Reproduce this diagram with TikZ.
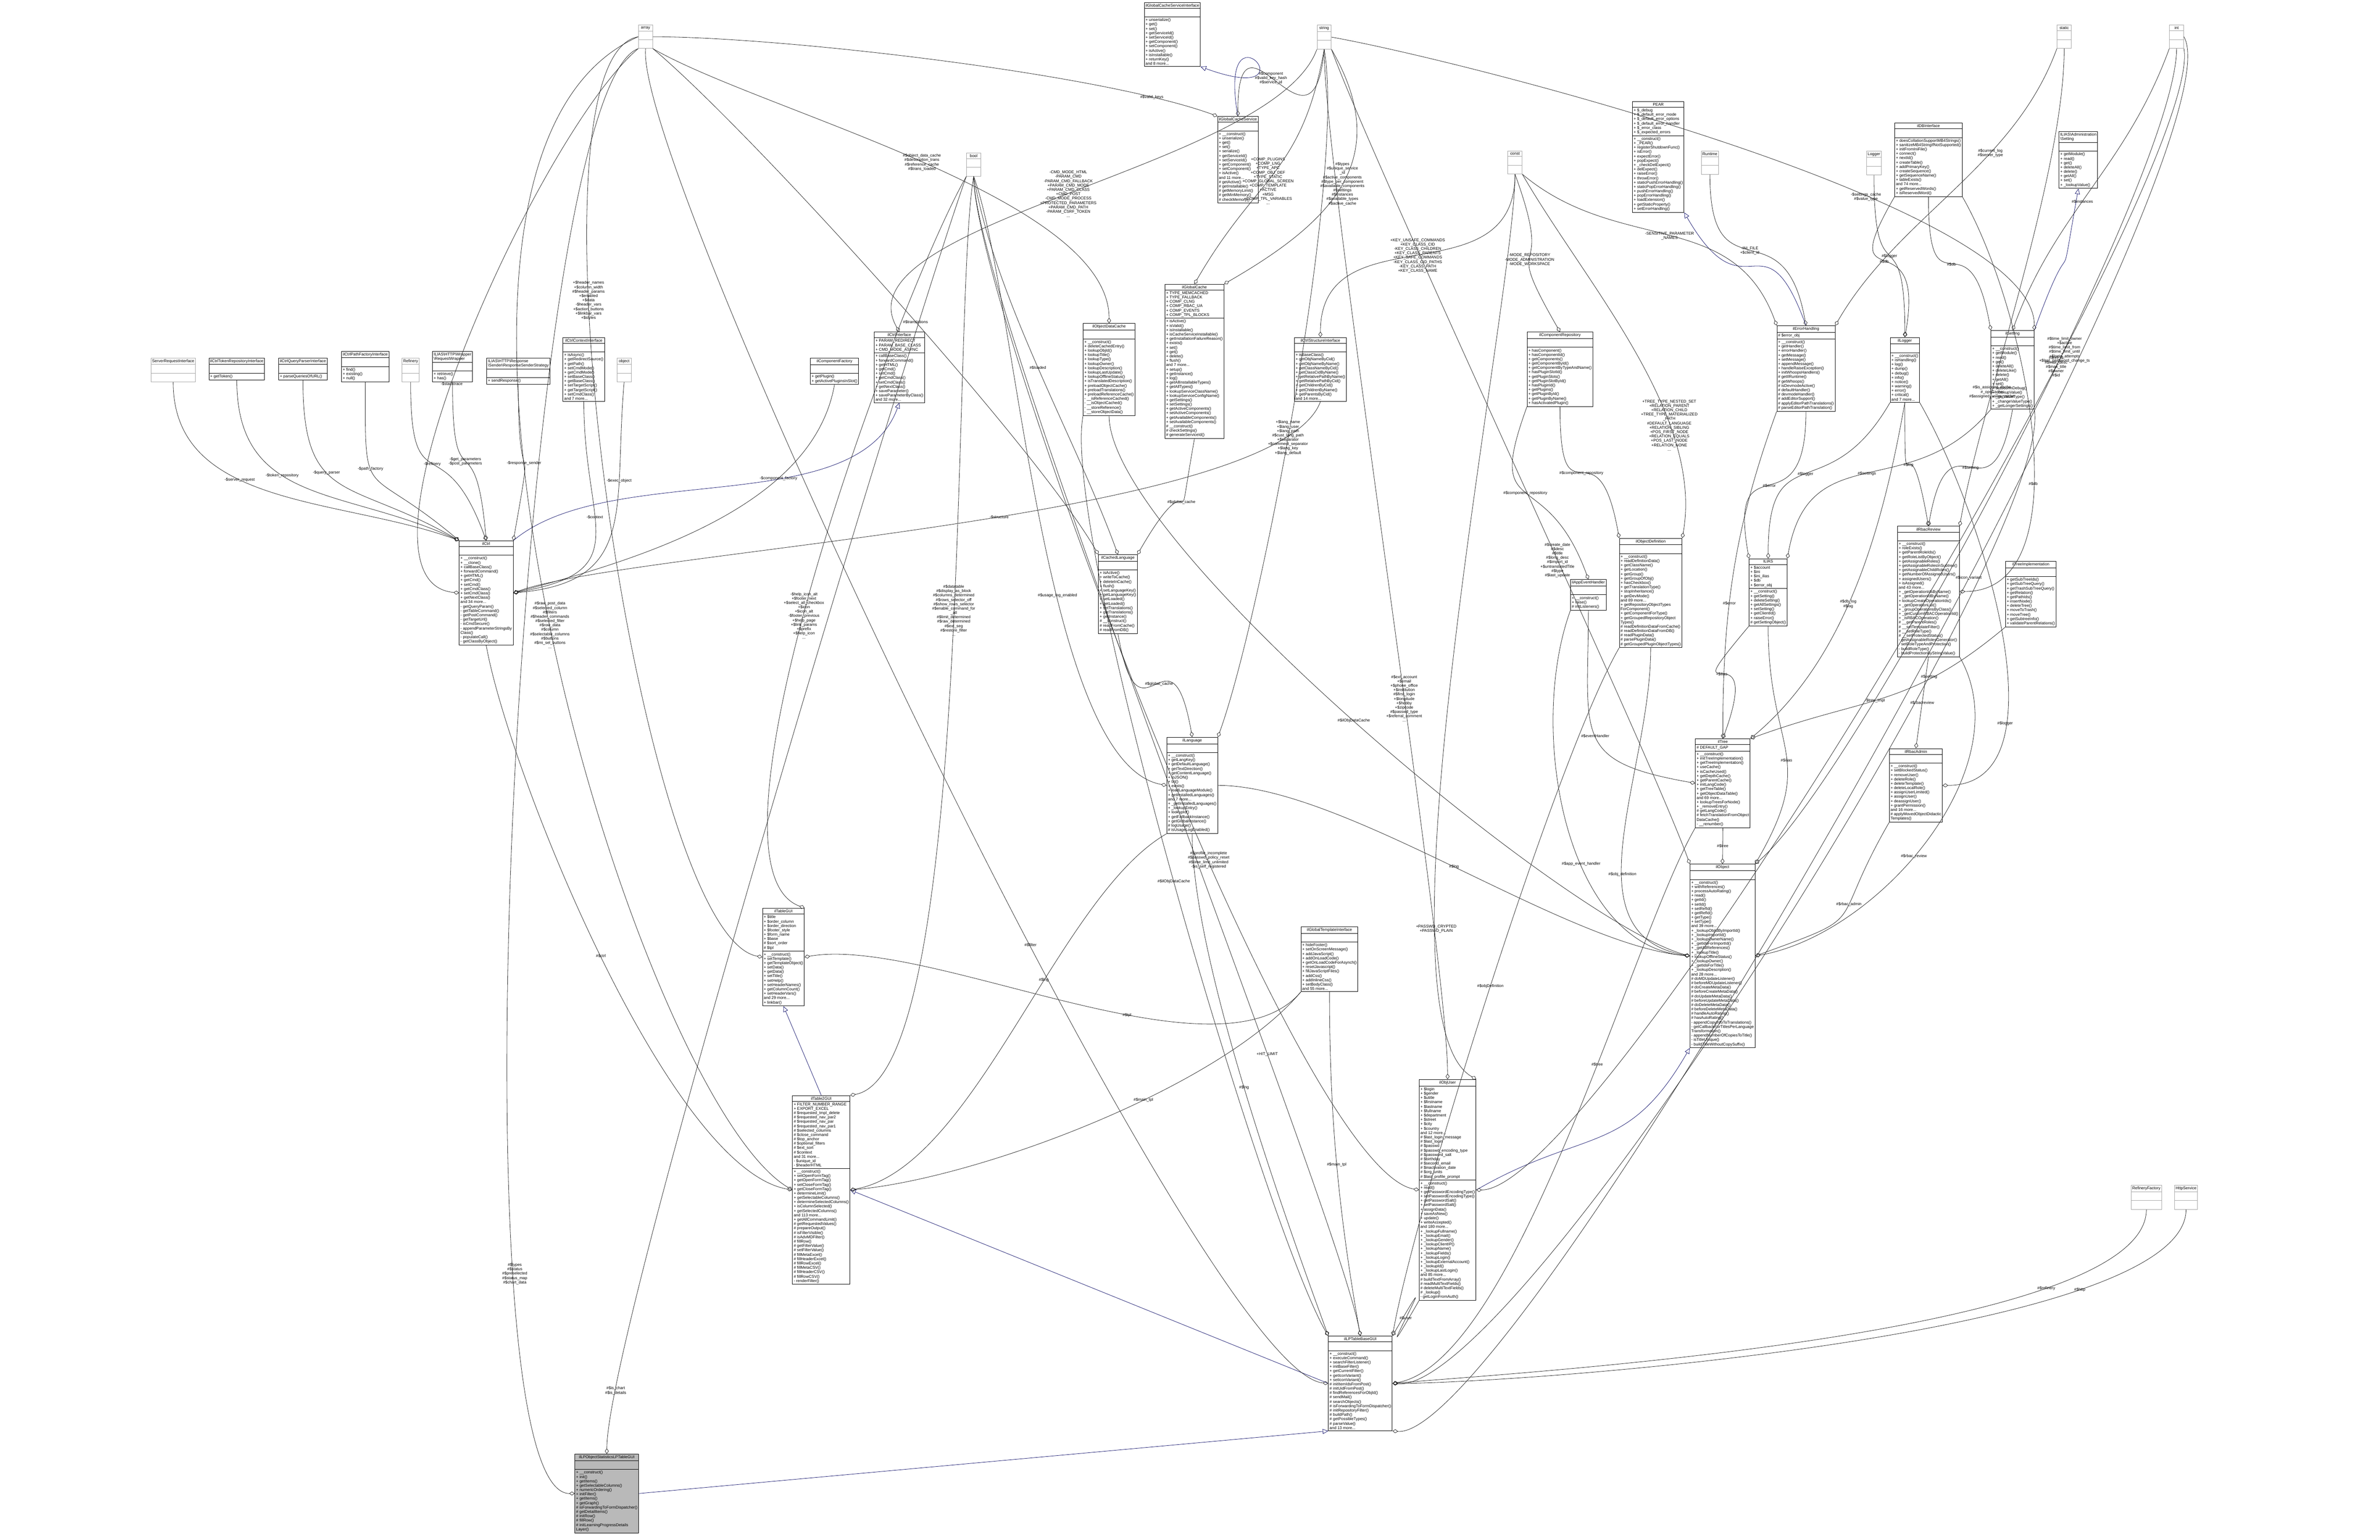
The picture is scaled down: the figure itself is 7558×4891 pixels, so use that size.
\documentclass[tikz,border=0pt]{standalone}
\usepackage{fontspec}
\setmainfont{Liberation Sans}
\usetikzlibrary{shapes.multipart,arrows.meta}
\definecolor{inhblue}{RGB}{25,25,112}
\newcommand{\clsfont}{\fontsize{3.6}{3.95}\selectfont}
\newcommand{\lblfont}{\fontsize{3.6}{3.95}\selectfont}
\tikzset{
  cls/.style={draw, fill=white, rectangle split, rectangle split parts=3, align=left,
    rectangle split part align={center,left,left}, font=\clsfont, inner sep=1.1pt,
    rectangle split empty part height=0.09cm, anchor=north},
  typ/.style={cls, draw=gray!70, minimum width=0.45cm, rectangle split empty part height=0.17cm},
  gray cls/.style={cls, fill=gray!55},
  comp/.style={draw=black!85, line width=0.35pt, -{Diamond[open,length=5pt,width=3.5pt]}},
  inh/.style={draw=inhblue, line width=0.35pt, -{Triangle[open,length=5pt,width=4.5pt]}},
  oi/.style 2 args={to path={.. controls +(#1:4cm) and +(#2:4cm) .. (\tikztotarget) \tikztonodes}},
  lbl/.style={font=\lblfont, align=center, inner sep=1pt}
}
\begin{document}
\begin{tikzpicture}[x=0.01cm,y=-0.01cm]
\useasboundingbox (0,0) rectangle (7558,4891);
% basic types
\node[typ] (array) at (2050,79) {array\nodepart{two}{}\nodepart{three}{}};
\node[typ] (bool) at (3092,485) {bool\nodepart{two}{}\nodepart{three}{}};
\node[typ] (string) at (4205,79) {string\nodepart{two}{}\nodepart{three}{}};
\node[typ] (static) at (6555,79) {static\nodepart{two}{}\nodepart{three}{}};
\node[typ] (int) at (6912,79) {int\nodepart{two}{}\nodepart{three}{}};
\node[typ] (const) at (4811,479) {const\nodepart{two}{}\nodepart{three}{}};
\node[typ] (runtime) at (5430,479) {Runtime\nodepart{two}{}\nodepart{three}{}};
\node[typ] (logger) at (5951,479) {Logger\nodepart{two}{}\nodepart{three}{}};
\node[typ] (object) at (1982,1136) {object\nodepart{two}{}\nodepart{three}{}};
\node[typ] (srvreq) at (550,1136) {ServerRequestInterface\nodepart{two}{}\nodepart{three}{}};
\node[typ] (refinery) at (1304,1136) {Refinery\nodepart{two}{}\nodepart{three}{}};
\node[typ] (refFactory) at (6816,3764) {RefineryFactory\nodepart{two}{}\nodepart{three}{}};
\node[typ] (httpSrv) at (6942,3764) {HttpService\nodepart{two}{}\nodepart{three}{}};
% interfaces of the controller
\node[cls] (tokenRepo) at (752,1136) {ilCtrlTokenRepositoryInterface\nodepart{two}{}\nodepart{three}+ getToken()};
\node[cls] (queryParser) at (962,1136) {ilCtrlQueryParserInterface\nodepart{two}{}\nodepart{three}+ parseQueriesOfURL()};
\node[cls] (pathFactory) at (1160,1115) {ilCtrlPathFactoryInterface\nodepart{two}{}\nodepart{three}+ find()\\+ existing()\\+ null()};
\node[cls] (reqWrapper) at (1437,1115) {ILIAS\textbackslash HTTP\textbackslash Wrapper\\\textbackslash RequestWrapper\nodepart{two}{}\nodepart{three}+ retrieve()\\+ has()};
\node[cls] (respSender) at (1646,1136) {ILIAS\textbackslash HTTP\textbackslash Response\\\textbackslash Sender\textbackslash ResponseSenderStrategy\nodepart{two}{}\nodepart{three}+ sendResponse()};
\node[cls] (ctrlContext) at (1854,1071) {ilCtrlContextInterface\nodepart{two}{}\nodepart{three}+ isAsync()\\+ getRedirectSource()\\+ getPath()\\+ setCmdMode()\\+ getCmdMode()\\+ setBaseClass()\\+ getBaseClass()\\+ setTargetScript()\\+ getTargetScript()\\+ setCmdClass()\\and 7 more...};
\node[cls] (compFactory) at (2650,1137) {ilComponentFactory\nodepart{two}{}\nodepart{three}+ getPlugin()\\+ getActivePluginsInSlot()};
\node[cls] (ctrlIf) at (2856,1054) {ilCtrlInterface\nodepart{two}+ PARAM\_REDIRECT\\+ PARAM\_BASE\_CLASS\\+ CMD\_MODE\_ASYNC\nodepart{three}+ callBaseClass()\\+ forwardCommand()\\+ getHTML()\\+ getCmd()\\+ setCmd()\\+ getCmdClass()\\+ setCmdClass()\\+ getNextClass()\\+ saveParameter()\\+ saveParameterByClass()\\and 32 more...};
\node[cls] (objDataCache) at (3522,1027) {ilObjectDataCache\nodepart{two}{}\nodepart{three}+ \_\_construct()\\+ deleteCachedEntry()\\+ lookupObjId()\\+ lookupTitle()\\+ lookupType()\\+ lookupOwner()\\+ lookupDescription()\\+ lookupLastUpdate()\\+ lookupOfflineStatus()\\+ isTranslatedDescription()\\+ preloadObjectCache()\\+ preloadTranslations()\\+ preloadReferenceCache()\\- \_\_isReferenceCached()\\- \_\_isObjectCached()\\- \_\_storeReference()\\- \_\_storeObjectData()};
\node[cls] (cacheSrvIf) at (3723,7) {ilGlobalCacheServiceInterface\nodepart{two}{}\nodepart{three}+ unserialize()\\+ get()\\+ set()\\+ getServiceId()\\+ setServiceId()\\+ getComponent()\\+ setComponent()\\+ isActive()\\+ isInstallable()\\+ returnKey()\\and 8 more...};
\node[cls] (cacheSrv) at (3931,369) {ilGlobalCacheService\nodepart{two}{}\nodepart{three}+ \_\_construct()\\+ unserialize()\\+ get()\\+ set()\\+ serialize()\\+ getServiceId()\\+ setServiceId()\\+ getComponent()\\+ setComponent()\\+ isActive()\\and 11 more...\\\# getActive()\\\# getInstallable()\\\# getMemoryLimit()\\\# getMinMemory()\\\# checkMemory()};
\node[cls] (globalCache) at (3793,902) {ilGlobalCache\nodepart{two}+ TYPE\_MEMCACHED\\+ TYPE\_FALLBACK\\+ COMP\_CLNG\\+ COMP\_RBAC\_UA\\+ COMP\_EVENTS\\+ COMP\_TPL\_BLOCKS\nodepart{three}+ isActive()\\+ isValid()\\+ isInstallable()\\+ isCacheServiceInstallable()\\+ getInstallationFailureReason()\\+ exists()\\+ set()\\+ get()\\+ delete()\\+ flush()\\and 7 more...\\+ setup()\\+ getInstance()\\+ log()\\+ getAllInstallableTypes()\\+ getAllTypes()\\+ lookupServiceClassName()\\+ lookupServiceConfigName()\\+ getSettings()\\+ setSettings()\\+ getActiveComponents()\\+ setActiveComponents()\\+ getAvailableComponents()\\+ setAvailableComponents()\\\# \_\_construct()\\\# checkSettings()\\\# generateServiceId()};
\node[cls] (ctrlStruct) at (4193,1071) {ilCtrlStructureInterface\nodepart{two}{}\nodepart{three}+ isBaseClass()\\+ getObjNameByCid()\\+ getObjNameByName()\\+ getClassNameByCid()\\+ getClassCidByName()\\+ getRelativePathByName()\\+ getRelativePathByCid()\\+ getChildrenByCid()\\+ getChildrenByName()\\+ getParentsByCid()\\and 14 more...};
\node[cls] (compRepo) at (4954,1054) {ilComponentRepository\nodepart{two}{}\nodepart{three}+ hasComponent()\\+ hasComponentId()\\+ getComponents()\\+ getComponentById()\\+ getComponentByTypeAndName()\\+ hasPluginSlotId()\\+ getPluginSlots()\\+ getPluginSlotById()\\+ hasPluginId()\\+ getPlugins()\\+ getPluginById()\\+ getPluginByName()\\+ hasActivatedPlugin()};
\node[cls] (pear) at (5266,322) {PEAR\nodepart{two}+ \$\_debug\\+ \$\_default\_error\_mode\\+ \$\_default\_error\_options\\+ \$\_default\_error\_handler\\+ \$\_error\_class\\+ \$\_expected\_errors\nodepart{three}+ \_\_construct()\\+ \_PEAR()\\+ registerShutdownFunc()\\+ isError()\\+ expectError()\\+ popExpect()\\+ \_checkDelExpect()\\+ delExpect()\\+ raiseError()\\+ throwError()\\+ staticPushErrorHandling()\\+ staticPopErrorHandling()\\+ pushErrorHandling()\\+ popErrorHandling()\\+ loadExtension()\\+ getStaticProperty()\\+ setErrorHandling()};
\node[cls] (errHandling) at (5735,1034) {ilErrorHandling\nodepart{two}\# \$error\_obj\nodepart{three}+ \_\_construct()\\+ getHandler()\\+ errorHandler()\\+ getMessage()\\+ setMessage()\\+ appendMessage()\\+ handleRaiseException()\\+ initWhoopsHandlers()\\\# getIlRuntime()\\\# getWhoops()\\\# isDevmodeActive()\\\# defaultHandler()\\\# devmodeHandler()\\\# addEditorSupport()\\\# applyEditorPathTranslations()\\\# parseEditorPathTranslation()};
\node[cls] (ilLogger) at (6049,1071) {ilLogger\nodepart{two}{}\nodepart{three}+ \_\_construct()\\+ isHandling()\\+ log()\\+ dump()\\+ debug()\\+ info()\\+ notice()\\+ warning()\\+ error()\\+ critical()\\and 7 more...};
\node[cls] (dbIf) at (6124,390) {ilDBInterface\nodepart{two}{}\nodepart{three}+ doesCollationSupportMB4Strings()\\+ sanitizeMB4StringIfNotSupported()\\+ initFromIniFile()\\+ connect()\\+ nextId()\\+ createTable()\\+ addPrimaryKey()\\+ createSequence()\\+ getSequenceName()\\+ tableExists()\\and 74 more...\\+ getReservedWords()\\+ isReservedWord()};
\node[cls] (admSetting) at (6600,417) {ILIAS\textbackslash Administration\\\textbackslash Setting\nodepart{two}{}\nodepart{three}+ getModule()\\+ read()\\+ get()\\+ deleteAll()\\+ delete()\\+ getAll()\\+ set()\\+ \_lookupValue()};
\node[cls] (setting) at (6391,1049) {ilSetting\nodepart{two}{}\nodepart{three}+ \_\_construct()\\+ getModule()\\+ read()\\+ get()\\+ deleteAll()\\+ deleteLike()\\+ delete()\\+ getAll()\\+ set()\\+ setScormDebug()\\+ \_lookupValue()\\+ \_getValueType()\\+ \_changeValueType()\\+ \_getLongerSettings()};
\node[cls] (ctrl) at (1544,1717) {ilCtrl\nodepart{two}{}\nodepart{three}+ \_\_construct()\\+ \_\_clone()\\+ callBaseClass()\\+ forwardCommand()\\+ getHTML()\\+ getCmd()\\+ setCmd()\\+ getCmdClass()\\+ setCmdClass()\\+ getNextClass()\\and 34 more...\\- getQueryParam()\\- getTableCommand()\\- getPostCommand()\\- getTargetUrl()\\- isCmdSecure()\\- appendParameterStringsBy\\Class()\\- populateCall()\\- getClassByObject()};
\node[cls] (cachedLang) at (3550,1761) {ilCachedLanguage\nodepart{two}{}\nodepart{three}+ isActive()\\+ writeToCache()\\+ deleteInCache()\\+ flush()\\+ setLanguageKey()\\+ getLanguageKey()\\+ setLoaded()\\+ getLoaded()\\+ setTranslations()\\+ getTranslations()\\+ getInstance()\\\# \_\_construct()\\\# readFromCache()\\\# readFromDB()};
\node[cls] (lang) at (3786,2341) {ilLanguage\nodepart{two}{}\nodepart{three}+ \_\_construct()\\+ getLangKey()\\+ getDefaultLanguage()\\+ getTextDirection()\\+ getContentLanguage()\\+ toJSON()\\+ txt()\\+ exists()\\+ loadLanguageModule()\\+ getInstalledLanguages()\\and 7 more...\\+ \_getInstalledLanguages()\\+ \_lookupEntry()\\+ lookupId()\\+ getFallbackInstance()\\+ getGlobalInstance()\\\# logUsage()\\\# isUsageLogEnabled()};
\node[cls] (eventHandler) at (5044,1840) {ilAppEventHandler\nodepart{two}{}\nodepart{three}+ \_\_construct()\\+ raise()\\\# initListeners()};
\node[cls] (objDef) at (5242,1709) {ilObjectDefinition\nodepart{two}{}\nodepart{three}+ \_\_construct()\\+ readDefinitionData()\\+ getClassName()\\+ getLocation()\\+ getGroup()\\+ getGroupOfObj()\\+ hasCheckbox()\\+ getTranslationType()\\+ stopInheritance()\\+ getDevMode()\\and 89 more...\\+ getRepositoryObjectTypes\\ForComponent()\\+ getComponentForType()\\+ getGroupedRepositoryObject\\Types()\\\# readDefinitionDataFromCache()\\\# readDefinitionDataFromDB()\\\# readPluginData()\\\# parsePluginData()\\\# getGroupedPluginObjectTypes()};
\node[cls] (ilias) at (5615,1774) {ILIAS\nodepart{two}+ \$account\\+ \$ini\\+ \$ini\_ilias\\+ \$db\\+ \$error\_obj\nodepart{three}+ \_\_construct()\\+ getSetting()\\+ deleteSetting()\\+ getAllSettings()\\+ setSetting()\\+ getClientId()\\+ raiseError()\\\# getSettingObject()};
\node[cls] (rbacReview) at (6124,1671) {ilRbacReview\nodepart{two}{}\nodepart{three}+ \_\_construct()\\+ roleExists()\\+ getParentRoleIds()\\+ getRoleListByObject()\\+ getAssignableRoles()\\+ getAssignableRolesInSubtree()\\+ getAssignableChildRoles()\\+ getNumberOfAssignedUsers()\\+ assignedUsers()\\+ isAssigned()\\and 43 more...\\+ \_getOperationIdsByName()\\+ \_getOperationIdByName()\\+ lookupCreateOperationIds()\\+ \_getOperationList()\\+ \_groupOperationsByClass()\\+ \_getCustomRBACOperationId()\\+ \_isRBACOperation()\\\# \_\_getParentRoles()\\\# \_\_setTemplateFilter()\\\# \_\_setRoleType()\\\# \_\_setProtectedStatus()\\- getAssignableRolesGenerator()\\- setRoleTypeAndProtection()\\- buildRoleType()\\- buildProtectionByStringValue()};
\node[cls] (treeImpl) at (6449,1782) {ilTreeImplementation\nodepart{two}{}\nodepart{three}+ getSubTreeIds()\\+ getSubTreeQuery()\\+ getTrashSubTreeQuery()\\+ getRelation()\\+ getPathIds()\\+ insertNode()\\+ deleteTree()\\+ moveToTrash()\\+ moveTree()\\+ getSubtreeInfo()\\+ validateParentRelations()};
\node[cls] (tree) at (5471,2346) {ilTree\nodepart{two}\# DEFAULT\_GAP\nodepart{three}+ \_\_construct()\\+ initTreeImplementation()\\+ getTreeImplementation()\\+ useCache()\\+ isCacheUsed()\\+ getDepthCache()\\+ getParentCache()\\+ initLangCode()\\+ getTreeTable()\\+ getObjectDataTable()\\and 69 more...\\+ lookupTreesForNode()\\+ \_removeEntry()\\\# getLangCode()\\\# fetchTranslationFromObject\\DataCache()\\- \_\_renumber()};
\node[cls] (rbacAdmin) at (6084,2377) {ilRbacAdmin\nodepart{two}{}\nodepart{three}+ \_\_construct()\\+ setBlockedStatus()\\+ removeUser()\\+ deleteRole()\\+ deleteTemplate()\\+ deleteLocalRole()\\+ assignUserLimited()\\+ assignUser()\\+ deassignUser()\\+ grantPermission()\\and 16 more...\\\# applyMovedObjectDidactic\\Templates()};
\node[cls] (ilobject) at (5470,2744) {ilObject\nodepart{two}{}\nodepart{three}+ \_\_construct()\\+ withReferences()\\+ processAutoRating()\\+ read()\\+ getId()\\+ setId()\\+ setRefId()\\+ getRefId()\\+ getType()\\+ setType()\\and 39 more...\\+ \_lookupObjIdByImportId()\\+ \_lookupImportId()\\+ \_lookupOwnerName()\\+ \_getIdsForImportId()\\+ \_getAllReferences()\\+ \_lookupTitle()\\+ lookupOfflineStatus()\\+ \_lookupOwner()\\+ \_getIdsForTitle()\\+ \_lookupDescription()\\and 28 more...\\\# doMDUpdateListener()\\\# beforeMDUpdateListener()\\\# doCreateMetaData()\\\# beforeCreateMetaData()\\\# doUpdateMetaData()\\\# beforeUpdateMetaData()\\\# doDeleteMetaData()\\\# beforeDeleteMetaData()\\\# handleAutoRating()\\\# hasAutoRating()\\- appendCopyInfoToTranslations()\\- getCallbackForTitlesPerLanguage\\Transformation()\\- appendNumberOfCopiesToTitle()\\- isTitleUnique()\\- buildTitleWithoutCopySuffix()};
\node[cls] (tableGUI) at (2488,2884) {ilTableGUI\nodepart{two}+ \$title\\+ \$order\_column\\+ \$order\_direction\\+ \$footer\_style\\+ \$form\_name\\+ \$base\\\# \$sort\_order\\\# \$tpl\nodepart{three}+ \_\_construct()\\+ setTemplate()\\+ getTemplateObject()\\+ setData()\\+ getData()\\+ setTitle()\\+ setHelp()\\+ setHeaderNames()\\+ getColumnCount()\\+ setHeaderVars()\\and 29 more...\\+ linkbar()};
\node[cls] (tplIf) at (4222,2943) {ilGlobalTemplateInterface\nodepart{two}{}\nodepart{three}+ hideFooter()\\+ setOnScreenMessage()\\+ addJavaScript()\\+ addOnLoadCode()\\+ getOnLoadCodeForAsynch()\\+ resetJavascript()\\+ fillJavaScriptFiles()\\+ addCss()\\+ addInlineCss()\\+ setBodyClass()\\and 55 more...};
\node[cls] (table2GUI) at (2608,3479) {ilTable2GUI\nodepart{two}+ FILTER\_NUMBER\_RANGE\\+ EXPORT\_EXCEL\\\# \$requested\_tmpl\_delete\\\# \$requested\_nav\_par2\\\# \$requested\_nav\_par\\\# \$requested\_nav\_par1\\\# \$selected\_columns\\\# \$close\_command\\\# \$top\_anchor\\\# \$optional\_filters\\\# \$ext\_sort\\\# \$context\\and 31 more...\\- \$unique\_id\\- \$headerHTML\nodepart{three}+ \_\_construct()\\+ setOpenFormTag()\\+ getOpenFormTag()\\+ setCloseFormTag()\\+ getCloseFormTag()\\+ determineLimit()\\+ getSelectableColumns()\\+ determineSelectedColumns()\\+ isColumnSelected()\\+ getSelectedColumns()\\and 113 more...\\+ getAllCommandLimit()\\\# getRequestedValues()\\\# prepareOutput()\\\# isFilterVisible()\\\# isAdvMDFilter()\\\# fillRow()\\\# getFilterValue()\\\# setFilterValue()\\\# fillMetaExcel()\\\# fillHeaderExcel()\\\# fillRowExcel()\\\# fillMetaCSV()\\\# fillHeaderCSV()\\\# fillRowCSV()\\- renderFilter()};
\node[cls] (objUser) at (4597,3428) {ilObjUser\nodepart{two}+ \$login\\+ \$gender\\+ \$utitle\\+ \$firstname\\+ \$lastname\\+ \$fullname\\+ \$department\\+ \$street\\+ \$city\\+ \$country\\and 12 more...\\\# \$last\_login\_message\\\# \$last\_login\\\# \$passwd\\\# \$passwd\_encoding\_type\\\# \$password\_salt\\\# \$birthday\\\# \$second\_email\\\# \$inactivation\_date\\\# \$org\_units\\\# \$last\_profile\_prompt\nodepart{three}+ \_\_construct()\\+ read()\\+ getPasswordEncodingType()\\+ setPasswordEncodingType()\\+ getPasswordSalt()\\+ setPasswordSalt()\\+ assignData()\\+ saveAsNew()\\+ update()\\+ writeAccepted()\\and 180 more...\\+ \_lookupFullname()\\+ \_lookupEmail()\\+ \_lookupGender()\\+ \_lookupClientIP()\\+ \_lookupName()\\+ \_lookupFields()\\+ \_lookupLogin()\\+ \_lookupExternalAccount()\\+ \_lookupId()\\+ \_lookupLastLogin()\\and 85 more...\\\# buildTextFromArray()\\\# readMultiTextFields()\\\# deleteMultiTextFields()\\\# \_lookup()\\- getLoginFromAuth()};
\node[cls] (lpBase) at (4320,4243) {ilLPTableBaseGUI\nodepart{two}{}\nodepart{three}+ \_\_construct()\\+ executeCommand()\\+ searchFilterListener()\\+ initBaseFilter()\\+ getCurrentFilter()\\+ getIconVariant()\\+ setIconVariant()\\\# initItemIdsFromPost()\\\# initUidFromPost()\\\# findReferencesForObjId()\\\# sendMail()\\\# searchObjects()\\\# isForwardingToFormDispatcher()\\\# initRepositoryFilter()\\\# buildPath()\\\# getPossibleTypes()\\\# parseValue()\\and 13 more...};
\node[gray cls] (lpStats) at (1927,4618) {ilLPObjectStatisticsLPTableGUI\nodepart{two}{}\nodepart{three}+ \_\_construct()\\+ init()\\+ getItems()\\+ getSelectableColumns()\\+ numericOrdering()\\+ initFilter()\\+ getItems()\\+ getGraph()\\\# isForwardingToFormDispatcher()\\\# getDetailItems()\\\# initRow()\\\# fillRow()\\\# initLearningProgressDetails\\Layer()};
% inheritance
\draw[inh] (ctrl.north east) to[oi={40}{-110}] (ctrlIf.south);
\draw[inh] (cacheSrv.north) to[oi={100}{-20}] (cacheSrvIf.south east);
\draw[inh] (errHandling.north) to[oi={110}{-60}] (pear.south east);
\draw[inh] (setting.north east) to[oi={70}{-100}] (admSetting.south);
\draw[inh] (table2GUI.north) -- (tableGUI.south);
\draw[inh] (lpBase.west) -- (table2GUI.east);
\draw[inh] (lpStats.east) -- (lpBase.south west);
\draw[inh] (objUser.east) to[oi={30}{-120}] (ilobject.south west);
% composition into ilCtrl
\draw[comp] (srvreq.south) to[oi={-90}{160}] node[lbl,pos=0.4]{-\$server\_request} (ctrl.north west);
\draw[comp] (tokenRepo.south) to[oi={-90}{155}] node[lbl,pos=0.4]{-\$token\_repository} (ctrl.north west);
\draw[comp] (queryParser.south) to[oi={-90}{150}] node[lbl,pos=0.4]{-\$query\_parser} (ctrl.north west);
\draw[comp] (pathFactory.south) to[oi={-90}{140}] node[lbl,pos=0.4]{-\$path\_factory} (ctrl.north west);
\draw[comp] (refinery.south) to[oi={-90}{110}] node[lbl,pos=0.5]{-\$refinery} (ctrl.north);
\draw[comp] (reqWrapper.south) to[oi={-90}{95}] node[lbl,pos=0.5]{-\$get\_parameters\\-\$post\_parameters} (ctrl.north);
\draw[comp] (respSender.south) to[oi={-90}{80}] node[lbl,pos=0.5]{-\$response\_sender} (ctrl.north east);
\draw[comp] (ctrlContext.south) to[oi={-90}{10}] node[lbl,pos=0.4]{-\$context} (ctrl.east);
\draw[comp] (object.south) to[oi={-95}{5}] node[lbl,pos=0.3]{-\$exec\_object} (ctrl.east);
\draw[comp] (compFactory.south) to[oi={-100}{15}] node[lbl,pos=0.3]{-\$component\_factory} (ctrl.east);
\draw[comp] (ctrlStruct.south) to[oi={-110}{20}] node[lbl,pos=0.45]{-\$structure} (ctrl.east);
\draw[comp] (array.south west) to[oi={-140}{175}] node[lbl,pos=0.55]{-\$stacktrace} (ctrl.west);
% types into ilTableGUI / ilTable2GUI / statistics
\draw[comp] (array.west) to[oi={190}{170}] node[lbl,pos=0.35]{+\$header\_names\\+\$column\_width\\\#\$header\_params\\+\$enabled\\+\$data\\-\$header\_vars\\+\$action\_buttons\\+\$linkbar\_vars\\+\$styles} (tableGUI.west);
\draw[comp] (bool.south west) to[oi={-120}{160}] node[lbl,pos=0.55]{-\$help\_icon\_alt\\+\$footer\_next\\+\$select\_all\_checkbox\\+\$icon\\+\$icon\_alt\\-\$footer\_previous\\+\$help\_page\\+\$link\_params\\+\$prefix\\+\$help\_icon\\...} (tableGUI.north east);
\draw[comp] (array.west) .. controls +(-900,400) and +(-500,-300) .. node[lbl,pos=0.5]{\#\$raw\_post\_data\\\#\$selected\_column\\\#\$filters\\\#\$header\_commands\\\#\$selected\_filter\\\#\$row\_data\\\#\$column\\\#\$selectable\_columns\\\#\$buttons\\\#\$mi\_sel\_buttons\\...} (table2GUI.west);
\draw[comp] (bool.south) to[oi={-100}{10}] node[lbl,pos=0.45]{\#\$datatable\\\#\$display\_as\_block\\\#\$columns\_determined\\\#\$rows\_selector\_off\\\#\$show\_rows\_selector\\\#\$enable\_command\_for\\\_all\\\#\$limit\_determined\\\#\$raw\_determined\\\#\$ext\_seg\\\#\$restore\_filter\\...} (table2GUI.north east);
\draw[comp] (ctrl.south) to[oi={-80}{170}] node[lbl,pos=0.5]{\#\$ctrl} (table2GUI.west);
\draw[comp] (lang.south west) to[oi={-150}{10}] node[lbl,pos=0.4]{\#\$lng} (table2GUI.east);
\draw[comp] (tplIf.south west) to[oi={-130}{5}] node[lbl,pos=0.4]{\#\$main\_tpl} (table2GUI.east);
\draw[comp] (tplIf.south west) to[oi={-130}{10}] node[lbl,pos=0.4]{\#\$tpl} (tableGUI.east);
\draw[comp] (array.south west) to[oi={-160}{180}] node[lbl,pos=0.75]{\#\$types\\\#\$status\\\#\$preselected\\\#\$status\_map\\\#\$chart\_data} (lpStats.west);
\draw[comp] (bool.south west) to[oi={-110}{90}] node[lbl,pos=0.9]{\#\$is\_chart\\\#\$is\_details} (lpStats.north);
% language and caches
\draw[comp] (array.south east) to[oi={-40}{120}] node[lbl,pos=0.55]{\#\$translations} (cachedLang.north west);
\draw[comp] (bool.south) to[oi={-80}{110}] node[lbl,pos=0.5]{\#\$loaded} (cachedLang.north);
\draw[comp] (globalCache.south) to[oi={-100}{60}] node[lbl,pos=0.5]{\#\$global\_cache} (cachedLang.north east);
\draw[comp] (cachedLang.south) to[oi={-80}{100}] node[lbl,pos=0.55]{\#\$global\_cache} (lang.north);
\draw[comp] (string.south) to[oi={-80}{70}] node[lbl,pos=0.55]{+\$lang\_name\\+\$lang\_user\\+\$lang\_path\\\#\$cust\_lang\_path\\+\$separator\\+\$comment\_separator\\+\$lang\_key\\+\$lang\_default} (lang.north east);
\draw[comp] (bool.south) to[oi={-70}{170}] node[lbl,pos=0.6]{\#\$usage\_log\_enabled} (lang.west);
\draw[comp] (array.south east) to[oi={-30}{90}] node[lbl,pos=0.5]{\#\$object\_data\_cache\\\#\$description\_trans\\\#\$reference\_cache\\\#\$trans\_loaded} (objDataCache.north);
\draw[comp] (string.south) to[oi={-95}{90}] node[lbl,pos=0.55]{\#\$component\\\#\$valid\_key\_hash\\\#\$service\_id} (cacheSrv.north);
\draw[comp] (array.east) to[oi={0}{160}] node[lbl,pos=0.85]{\#\$valid\_keys} (cacheSrv.north west);
\draw[comp] (string.south east) to[oi={-60}{30}] node[lbl,pos=0.5]{\#\$types\\\#\$unique\_service\\\_id\\\#\$active\_components\\\#\$type\_per\_component\\\#\$available\_components\\\#\$settings\\\#\$instances\\\#\$available\_types\\\#\$active\_cache} (globalCache.north east);
\draw[comp] (string.south west) to[oi={-110}{120}] node[lbl,pos=0.5]{-CMD\_MODE\_HTML\\-PARAM\_CMD\\-PARAM\_CMD\_FALLBACK\\+PARAM\_CMD\_MODE\\+PARAM\_CMD\_CLASS\\+CMD\_POST\\-CMD\_MODE\_PROCESS\\+PROTECTED\_PARAMETERS\\+PARAM\_CMD\_PATH\\-PARAM\_CSRF\_TOKEN\\...} (ctrlIf.north);
\draw[comp] (string.south) to[oi={-100}{60}] node[lbl,pos=0.55]{+COMP\_PLUGINS\\+COMP\_LNG\\+TYPE\_APC\\+COMP\_OBJ\_DEF\\+TYPE\_STATIC\\+COMP\_GLOBAL\_SCREEN\\+COMP\_TEMPLATE\\+ACTIVE\\+MSG\\+COMP\_TPL\_VARIABLES\\...} (globalCache.north);
% infrastructure classes
\draw[comp] (const.south) to[oi={-90}{90}] node[lbl,pos=0.5]{+KEY\_UNSAFE\_COMMANDS\\+KEY\_CLASS\_CID\\-KEY\_CLASS\_CHILDREN\\+KEY\_CLASS\_PARENTS\\+KEY\_SAFE\_COMMANDS\\-KEY\_CLASS\_CID\_PATHS\\-KEY\_CLASS\_PATH\\+KEY\_CLASS\_NAME} (ctrlStruct.north);
\draw[comp] (const.south) to[oi={-70}{120}] node[lbl,pos=0.55]{-MODE\_REPOSITORY\\-MODE\_ADMINISTRATION\\-MODE\_WORKSPACE} (compRepo.north);
\draw[comp] (const.south east) to[oi={-40}{110}] node[lbl,pos=0.5]{-SENSITIVE\_PARAMETER\\\_NAMES} (errHandling.north west);
\draw[comp] (runtime.south) to[oi={-90}{100}] node[lbl,pos=0.5]{-INI\_FILE\\+\$client\_id} (errHandling.north);
\draw[comp] (logger.south) to[oi={-90}{90}] node[lbl,pos=0.5]{\#\$logger} (ilLogger.north);
\draw[comp] (static.south west) to[oi={-110}{60}] node[lbl,pos=0.35]{\#\$current\_log\\\#\$server\_type} (errHandling.north east);
\draw[comp] (int.south west) to[oi={-110}{70}] node[lbl,pos=0.55]{\#\$instances} (setting.north);
\draw[comp] (string.east) to[oi={-10}{90}] node[lbl,pos=0.65]{-\$settings\_cache\\\#\$value\_type} (setting.north east);
\draw[comp] (static.south) to[oi={-90}{80}] node[lbl,pos=0.7]{\#\$is\_assigned\_cache\\\#\_opsCache\\\#\$assigned\_users\_cache} (rbacReview.north east);
\draw[comp] (dbIf.south) to[oi={-90}{100}] node[lbl,pos=0.5]{\#\$db} (setting.north west);
\draw[comp] (dbIf.south west) to[oi={-120}{80}] node[lbl,pos=0.5]{\#\$db} (ilLogger.north);
\draw[comp] (compRepo.south west) to[oi={-110}{110}] node[lbl,pos=0.5]{\#\$component\_repository} (eventHandler.north);
\draw[comp] (compRepo.south) to[oi={-90}{100}] node[lbl,pos=0.5]{\#\$component\_repository} (objDef.north west);
\draw[comp] (const.south east) to[oi={-60}{80}] node[lbl,pos=0.7]{+TREE\_TYPE\_NESTED\_SET\\+RELATION\_PARENT\\+RELATION\_CHILD\\+TREE\_TYPE\_MATERIALIZED\\\_PATH\\\#DEFAULT\_LANGUAGE\\+RELATION\_SIBLING\\+POS\_FIRST\_NODE\\+RELATION\_EQUALS\\+POS\_LAST\_NODE\\+RELATION\_NONE\\...} (objDef.north east);
\draw[comp] (ilLogger.south west) to[oi={-120}{90}] node[lbl,pos=0.5]{\#\$logger} (ilias.north);
\draw[comp] (setting.south west) to[oi={-130}{80}] node[lbl,pos=0.5]{\#\$settings} (ilias.north east);
\draw[comp] (errHandling.south) to[oi={-90}{100}] node[lbl,pos=0.5]{\#\$error} (ilias.north west);
\draw[comp] (setting.south) to[oi={-100}{80}] node[lbl,pos=0.5]{\#\$setting} (rbacReview.north);
\draw[comp] (ilLogger.south) to[oi={-90}{100}] node[lbl,pos=0.5]{\#\$log} (rbacReview.north);
\draw[comp] (dbIf.south east) to[oi={-60}{0}] node[lbl,pos=0.6]{\#\$db} (rbacReview.east);
\draw[comp] (rbacReview.south) -- node[lbl,pos=0.5]{\#\$rbacreview} (rbacAdmin.north);
\draw[comp] (ilLogger.south east) to[oi={-60}{0}] node[lbl,pos=0.7]{\#\$logger} (rbacAdmin.east);
\draw[comp] (eventHandler.south) to[oi={-90}{170}] node[lbl,pos=0.5]{\#\$eventHandler} (tree.west);
\draw[comp] (ilias.south west) to[oi={-130}{70}] node[lbl,pos=0.5]{+\$ilias} (tree.north);
\draw[comp] (treeImpl.south west) to[oi={-140}{20}] node[lbl,pos=0.55]{-\$tree\_impl} (tree.north east);
\draw[comp] (ilLogger.south) to[oi={-100}{40}] node[lbl,pos=0.55]{\#\$db\_log\\\#\$log} (tree.north east);
\draw[comp] (errHandling.south west) to[oi={-110}{90}] node[lbl,pos=0.6]{\#\$error} (tree.north);
% ilObject
\draw[comp] (tree.south) -- node[lbl,pos=0.5]{\#\$tree} (ilobject.north);
\draw[comp] (eventHandler.south west) to[oi={-110}{175}] node[lbl,pos=0.6]{\#\$app\_event\_handler} (ilobject.west);
\draw[comp] (objDef.south) to[oi={-90}{170}] node[lbl,pos=0.6]{\#\$obj\_definition} (ilobject.west);
\draw[comp] (ilias.south) to[oi={-90}{60}] node[lbl,pos=0.55]{\#\$ilias} (ilobject.north east);
\draw[comp] (rbacAdmin.south west) to[oi={-120}{20}] node[lbl,pos=0.4]{\#\$rbac\_admin} (ilobject.east);
\draw[comp] (rbacReview.south east) to[oi={-60}{10}] node[lbl,pos=0.55]{\#\$rbac\_review} (ilobject.east);
\draw[comp] (lang.east) to[oi={0}{175}] node[lbl,pos=0.5]{\#\$lng} (ilobject.west);
\draw[comp] (objDataCache.south) to[oi={-90}{165}] node[lbl,pos=0.5]{\#\$ilObjDataCache} (ilobject.west);
\draw[comp] (string.south east) to[oi={-70}{110}] node[lbl,pos=0.6]{\#\$create\_date\\\#\$desc\\\#\$title\\\#\$long\_desc\\\#\$import\_id\\+\$untranslatedTitle\\\#\$type\\\#\$last\_update} (ilobject.north west);
\draw[comp] (int.south) to[oi={-90}{40}] node[lbl,pos=0.4]{\#\$ref\_id\\\#\$max\_desc\\\#\$max\_title\\\#\$owner\\\#\$id} (ilobject.north east);
% ilObjUser
\draw[comp] (string.south) to[oi={-90}{90}] node[lbl,pos=0.6]{\#\$ext\_account\\+\$email\\+\$phone\_office\\+\$institution\\\#\$first\_login\\+\$longitude\\+\$hobby\\+\$zipcode\\\#\$passwd\_type\\+\$referral\_comment\\...} (objUser.north);
\draw[comp] (int.south east) to[oi={-80}{0}] node[lbl,pos=0.3]{\#\$time\_limit\_owner\\+\$active\\\#\$time\_limit\_from\\\#\$time\_limit\_until\\+\$login\_attempts\\+\$last\_password\_change\_ts} (objUser.east);
\draw[comp] (bool.south) to[oi={-90}{170}] node[lbl,pos=0.6]{\#\$profile\_incomplete\\\#\$passwd\_policy\_reset\\\#\$time\_limit\_unlimited\\-\$is\_self\_registered} (objUser.west);
\draw[comp] (const.south) to[oi={-90}{150}] node[lbl,pos=0.75]{+PASSWD\_CRYPTED\\+PASSWD\_PLAIN} (objUser.north east);
% ilLPTableBaseGUI
\draw[comp] (objUser.south west) to[oi={-120}{60}] node[lbl,pos=0.5]{\#\$user} (lpBase.north east);
\draw[comp] (tplIf.south) to[oi={-90}{100}] node[lbl,pos=0.5]{\#\$main\_tpl} (lpBase.north);
\draw[comp] (objDef.south west) to[oi={-120}{80}] node[lbl,pos=0.5]{\#\$objDefinition} (lpBase.north east);
\draw[comp] (objDataCache.south west) to[oi={-100}{120}] node[lbl,pos=0.5]{\#\$ilObjDataCache} (lpBase.north west);
\draw[comp] (lang.south) to[oi={-90}{110}] node[lbl,pos=0.5]{\#\$lng} (lpBase.north west);
\draw[comp] (tree.south west) to[oi={-120}{10}] node[lbl,pos=0.4]{\#\$tree} (lpBase.east);
\draw[comp] (refFactory.south) to[oi={-90}{5}] node[lbl,pos=0.25]{\#\$refinery} (lpBase.east);
\draw[comp] (httpSrv.south) to[oi={-90}{0}] node[lbl,pos=0.25]{\#\$http} (lpBase.east);
\draw[comp] (setting.south east) to[oi={-80}{-5}] node[lbl,pos=0.3]{\#\$setting} (lpBase.east);
\draw[comp] (int.east) to[oi={-60}{-5}] node[lbl,pos=0.4]{\#\$icon\_variant} (lpBase.south east);
\draw[comp] (bool.south) to[oi={-90}{100}] node[lbl,pos=0.7]{+HIT\_LIMIT} (lpBase.north);
\draw[comp] (array.south) to[oi={-95}{175}] node[lbl,pos=0.6]{\#\$filter} (lpBase.west);
\end{tikzpicture}
\end{document}
